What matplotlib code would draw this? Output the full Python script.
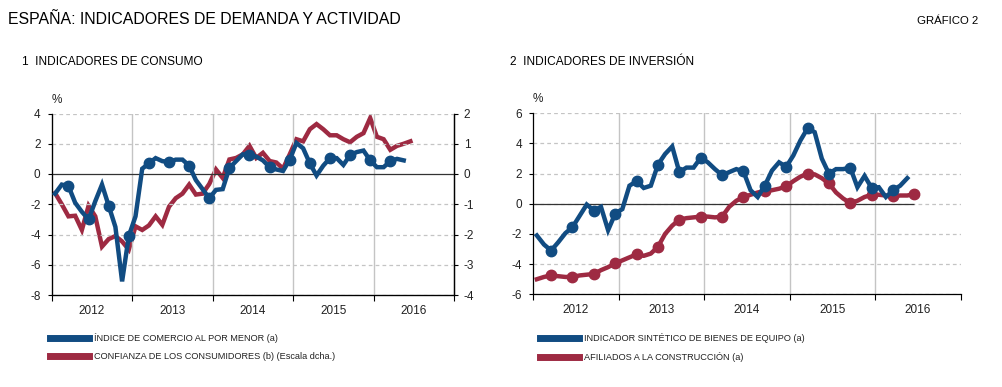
import matplotlib
matplotlib.use("Agg")
import matplotlib.pyplot as plt
from matplotlib.lines import Line2D
from matplotlib import font_manager
import numpy as np

names = {f.name for f in font_manager.fontManager.ttflist}
NARROW = 'Liberation Sans Narrow' if 'Liberation Sans Narrow' in names else 'Liberation Sans'
plt.rcParams['font.family'] = ['Liberation Sans', 'DejaVu Sans']

# ---------------- data (monthly, starting Jan 2012) ----------------
start_year = 2012
years = ['2012', '2013', '2014', '2015', '2016']

comercio = [-1.3, -0.7, -0.8, -1.9, -2.5, -3.0, -1.8, -0.7, -2.1, -3.5, -7.1, -4.1,
            -2.8, 0.35, 0.7, 1.05, 0.85, 0.8, 0.95, 0.95, 0.55, -0.4, -1.0, -1.6,
            -1.05, -1.0, 0.4, 0.85, 1.3, 1.25, 1.15, 0.9, 0.45, 0.3, 0.2, 0.95,
            2.05, 1.7, 0.7, -0.1, 0.55, 1.05, 1.05, 0.6, 1.25, 1.45, 1.55, 0.9,
            0.45, 0.45, 0.85, 1.0, 0.9]

confianza = [-0.63, -1.0, -1.4, -1.38, -1.85, -1.05, -1.4, -2.4, -2.15, -2.05, -2.23, -2.5,
             -1.73, -1.85, -1.7, -1.4, -1.68, -1.08, -0.8, -0.65, -0.35, -0.68, -0.65, -0.33,
             0.15, -0.13, 0.48, 0.53, 0.65, 0.93, 0.53, 0.7, 0.43, 0.38, 0.18, 0.65,
             1.15, 1.08, 1.48, 1.65, 1.48, 1.28, 1.28, 1.15, 1.05, 1.23, 1.35, 1.85,
             1.23, 1.15, 0.8, 0.93, 1.0, 1.08]

equipo = [-2.1, -2.7, -3.1, -2.55, -1.95, -1.55, -0.8, -0.05, -0.45, -0.2, -1.75, -0.65,
          -0.35, 1.2, 1.5, 1.05, 1.2, 2.6, 3.3, 3.8, 2.1, 2.4, 2.4, 3.05,
          2.75, 2.3, 1.9, 2.1, 2.3, 2.15, 0.9, 0.45, 1.2, 2.2, 2.75, 2.45,
          3.2, 4.2, 5.0, 4.75, 3.0, 2.0, 2.3, 2.3, 2.4, 1.1, 1.85, 1.05,
          1.1, 0.45, 0.9, 1.2, 1.7]

afiliados = [-5.0, -4.85, -4.75, -4.8, -4.85, -4.85, -4.75, -4.7, -4.65, -4.4, -4.2, -3.95,
             -3.75, -3.55, -3.35, -3.45, -3.3, -2.85, -2.0, -1.45, -1.05, -0.95, -0.9, -0.85,
             -0.85, -0.9, -0.85, -0.2, 0.2, 0.45, 0.6, 0.75, 0.85, 0.9, 1.0, 1.15,
             1.5, 1.8, 2.0, 1.95, 1.7, 1.35, 0.75, 0.35, 0.05, 0.2, 0.45, 0.6,
             0.6, 0.55, 0.5, 0.55, 0.55, 0.65]

left_ticks = [4, 2, 0, -2, -4, -6, -8]
right_ticks = [2, 1, 0, -1, -2, -3, -4]
inv_ticks = [6, 4, 2, 0, -2, -4, -6]

BLUE = '#114c82'
RED = '#9e2a42'
GRID = '#c4c4c4'
TXT = '#222222'


def xs(vals):
    return start_year + (np.arange(len(vals)) + 0.5) / 12.0


W, H = 1003, 387
fig = plt.figure(figsize=(W / 100, H / 100), dpi=100)


def setup(ax, ylim, yticks):
    ax.set_xlim(2012, 2017)
    ax.set_ylim(*ylim)
    ax.set_yticks(yticks)
    ax.set_yticklabels([str(t) for t in yticks])
    ax.set_xticks([2012, 2013, 2014, 2015, 2016, 2017])
    ax.set_xticklabels([])
    ax.set_xticks([2012.5 + k for k in range(5)], minor=True)
    ax.set_xticklabels(years, minor=True)
    ax.tick_params(axis='x', which='major', length=4, width=0.8, color='black', direction='out')
    ax.tick_params(axis='x', which='minor', length=0, labelsize=8.5, colors=TXT, pad=7)
    ax.tick_params(axis='y', length=3, width=0.8, labelsize=8.5, colors=TXT, pad=5)
    ax.tick_params(axis='y', color='black')
    for yv in yticks:
        if yv != 0:
            ax.axhline(yv, color=GRID, lw=0.9, ls=(0, (3, 2.5)), zorder=0)
    for xv in [2013, 2014, 2015, 2016]:
        ax.axvline(xv, color=GRID, lw=1.0, zorder=0)
    ax.spines['top'].set_visible(False)
    ax.spines['left'].set_linewidth(0.9)
    ax.spines['bottom'].set_linewidth(0.9)


# ---------------- left panel ----------------
ax1 = fig.add_axes([51.7 / W, 1 - 295 / H, (454 - 51.7) / W, (295 - 113.5) / H])
setup(ax1, (-8, 4), left_ticks)
ax1.spines['right'].set_linewidth(0.9)
ax1.axhline(0, color='#333333', lw=0.9, zorder=1)
ax2 = ax1.twinx()
ax2.set_ylim(-4, 2)
ax2.set_yticks(right_ticks)
ax2.set_yticklabels([str(t) for t in right_ticks])
ax2.tick_params(axis='y', length=3, width=0.8, labelsize=8.5, colors=TXT, pad=4)
ax2.tick_params(axis='y', color='black')
ax2.spines['top'].set_visible(False)
ax2.spines['right'].set_linewidth(0.9)
ax2.plot(xs(confianza), confianza, color=RED, lw=3.2, solid_joinstyle='miter', zorder=3)
xc = xs(comercio)
ax1.set_zorder(ax2.get_zorder() + 1)
ax1.patch.set_visible(False)
ax1.plot(xc, comercio, color=BLUE, lw=3.2, solid_joinstyle='miter', zorder=4,
         marker='o', markevery=list(range(2, len(comercio), 3)), markersize=7.5)

# ---------------- right panel ----------------
ax3 = fig.add_axes([533.3 / W, 1 - 294.3 / H, (960.7 - 533.3) / W, (294.3 - 113.3) / H])
setup(ax3, (-6, 6), inv_ticks)
ax3.spines['right'].set_visible(False)
xa = xs(afiliados)
ax3.axhline(0, color=GRID, lw=0.9, ls=(0, (3, 2.5)), zorder=0)
ax3.hlines(0, 2012, xa[-1], color='#333333', lw=0.9, zorder=1)
ax3.plot(xa, afiliados, color=RED, lw=3.2, zorder=3, marker='o',
         markevery=list(range(2, len(afiliados), 3)), markersize=7.5)
ax3.plot(xs(equipo), equipo, color=BLUE, lw=3.2, solid_joinstyle='miter', zorder=4, marker='o',
         markevery=list(range(2, len(equipo), 3)), markersize=7.5)

# ---------------- texts ----------------
fig.text(8 / W, 1 - 20 / H, 'ESPAÑA: INDICADORES DE DEMANDA Y ACTIVIDAD', fontsize=11.4,
         color='black', va='center', ha='left')
fig.text(978 / W, 1 - 21 / H, 'GRÁFICO 2', fontsize=8.2, color='black', va='center', ha='right')
fig.text(22 / W, 1 - 62 / H, '1  INDICADORES DE CONSUMO', fontsize=8.6, color='black',
         va='center', ha='left')
fig.text(510 / W, 1 - 62 / H, '2  INDICADORES DE INVERSIÓN', fontsize=8.6, color='black',
         va='center', ha='left')
fig.text(52 / W, 1 - 100 / H, '%', fontsize=8.5, color=TXT, va='center', ha='left')
fig.text(533 / W, 1 - 99 / H, '%', fontsize=8.5, color=TXT, va='center', ha='left')

leg_kw = dict(frameon=False, handlelength=4.2, handletextpad=0.6,
              labelspacing=0.95, borderaxespad=0, borderpad=0, labelcolor=TXT,
              prop={'family': [NARROW, 'Liberation Sans'], 'size': 6.6})
h1 = [Line2D([], [], color=BLUE, lw=5), Line2D([], [], color=RED, lw=5)]
fig.legend(h1, ['ÍNDICE DE COMERCIO AL POR MENOR (a)',
                'CONFIANZA DE LOS CONSUMIDORES (b) (Escala dcha.)'],
           loc='upper left', bbox_to_anchor=(50 / W, 1 - 333 / H), **leg_kw)
fig.legend(h1, ['INDICADOR SINTÉTICO DE BIENES DE EQUIPO (a)',
                'AFILIADOS A LA CONSTRUCCIÓN (a)'],
           loc='upper left', bbox_to_anchor=(540 / W, 1 - 333 / H), **leg_kw)

fig.savefig('out.png', dpi=100)
